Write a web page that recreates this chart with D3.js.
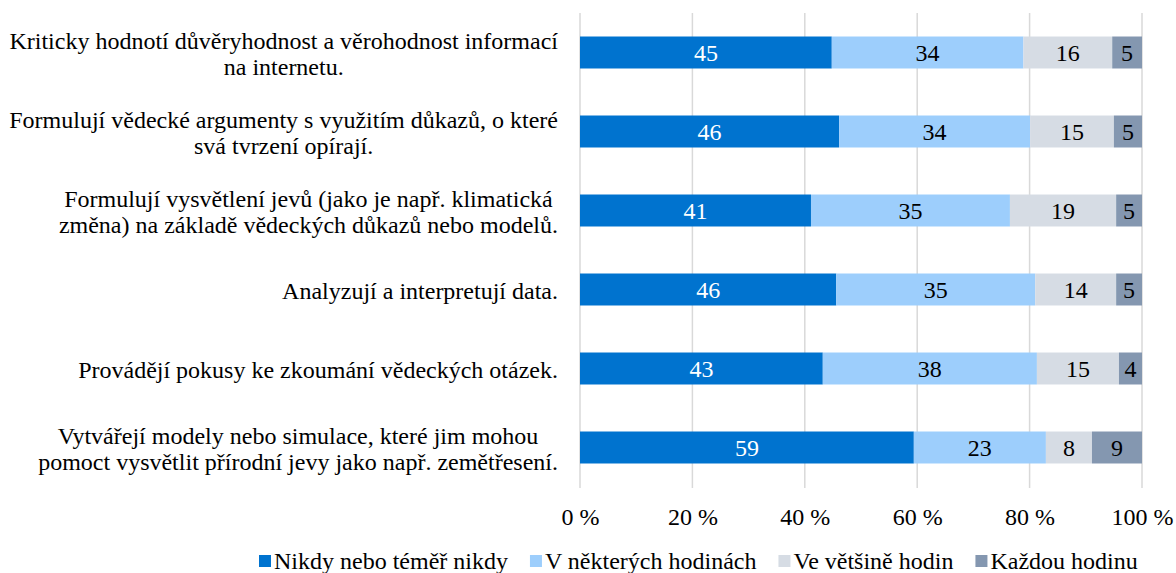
<!DOCTYPE html>
<html>
<head>
<meta charset="utf-8">
<script src="https://cdn.jsdelivr.net/npm/d3@7"></script>
<style>
  body { margin: 0; background: #fff; }
  text { font-family: "Liberation Serif", "Times New Roman", serif; }
</style>
</head>
<body>
<div id="chart"></div>
<script>
// Categories (each item is one label, lines split by "\n")
var categories = [
    "Kriticky hodnotí důvěryhodnost a věrohodnost informací\nna internetu.",
    "Formulují vědecké argumenty s využitím důkazů, o které\nsvá tvrzení opírají.",
    "Formulují vysvětlení jevů (jako je např. klimatická\nzměna) na základě vědeckých důkazů nebo modelů.",
    "Analyzují a interpretují data.",
    "Provádějí pokusy ke zkoumání vědeckých otázek.",
    "Vytvářejí modely nebo simulace, které jim mohou\npomoct vysvětlit přírodní jevy jako např. zemětřesení."
];

var seriesNames = ["Nikdy nebo téměř nikdy", "V některých hodinách", "Ve většině hodin", "Každou hodinu"];
var seriesColors = ["#0073cf", "#9dcefc", "#d6dce4", "#8497b0"];
var labelColors = ["#ffffff", "#000000", "#000000", "#000000"];

// series values (%), per category
var nikdy   = [44.8, 46.1, 41.1, 45.6, 43.2, 59.4];
var nekdy   = [34.1, 34.0, 35.4, 35.4, 38.1, 23.5];
var vetsina = [15.8, 14.9, 18.9, 14.4, 14.6, 8.2];
var kazdou  = [5.3, 5.0, 4.6, 4.6, 4.1, 8.9];
// printed labels
var lblNikdy   = [45, 46, 41, 46, 43, 59];
var lblNekdy   = [34, 34, 35, 35, 38, 23];
var lblVetsina = [16, 15, 19, 14, 15, 8];
var lblKazdou  = [5, 5, 5, 5, 4, 9];

var ticks = [0, 20, 40, 60, 80, 100];

var W = 1176, H = 573;
var plotLeft = 580, plotRight = 1142, plotTop = 13, plotBottom = 487;
var FONT = "Liberation Serif, Times New Roman, serif";
var FS = 24;

var rows = categories.map(function(c, i) {
    return {cat: c, s0: nikdy[i], s1: nekdy[i], s2: vetsina[i], s3: kazdou[i],
            l: [lblNikdy[i], lblNekdy[i], lblVetsina[i], lblKazdou[i]]};
});

var svg = d3.select("#chart").append("svg")
    .attr("width", W)
    .attr("height", H)
    .attr("font-family", FONT);

var x = d3.scaleLinear().domain([0, 100]).range([plotLeft, plotRight]);
var y = d3.scaleBand().domain(d3.range(categories.length))
    .range([plotTop, plotBottom]).paddingInner(0.595).paddingOuter(0.2975);

// gridlines
svg.append("g").selectAll("line")
    .data(ticks)
    .join("line")
    .attr("x1", d => x(d)).attr("x2", d => x(d))
    .attr("y1", plotTop).attr("y2", plotBottom + 1)
    .attr("stroke", "#d9d9d9")
    .attr("stroke-width", 1.5);

// x axis labels
var xAxis = svg.append("g")
    .attr("transform", `translate(0, ${plotBottom})`)
    .call(d3.axisBottom(x).tickValues(ticks).tickSize(0).tickPadding(21).tickFormat(d => d + " %"))
    .attr("font-family", FONT)
    .attr("font-size", FS);
xAxis.select(".domain").remove();
xAxis.selectAll("text").attr("fill", "#000");

// stack
var keys = ["s0", "s1", "s2", "s3"];
var stacked = d3.stack().keys(keys).offset(d3.stackOffsetExpand)(rows);

var layers = svg.append("g").selectAll("g")
    .data(stacked)
    .join("g")
    .attr("fill", (d, i) => seriesColors[i]);

layers.selectAll("rect")
    .data(d => d)
    .join("rect")
    .attr("x", d => x(d[0] * 100))
    .attr("width", d => x(d[1] * 100) - x(d[0] * 100))
    .attr("y", (d, i) => y(i))
    .attr("height", y.bandwidth());

layers.each(function(layer, k) {
    d3.select(this).selectAll("text")
        .data(layer)
        .join("text")
        .attr("x", d => (x(d[0] * 100) + x(d[1] * 100)) / 2)
        .attr("y", (d, i) => y(i) + y.bandwidth() / 2)
        .attr("dy", "0.35em")
        .attr("text-anchor", "middle")
        .attr("font-size", FS)
        .attr("fill", labelColors[k])
        .text(d => d.data.l[k]);
});

// category labels: centered lines, block right-aligned
var catG = svg.append("g");
rows.forEach(function(r, i) {
    var lines = r.cat.split("\n");
    var g = catG.append("g");
    var lh = 26;
    var cy = y(i) + y.bandwidth() / 2 + 1;
    var texts = g.selectAll("text")
        .data(lines)
        .join("text")
        .attr("font-size", FS)
        .attr("fill", "#000")
        .attr("text-anchor", "middle")
        .attr("y", (d, j) => cy + (j - (lines.length - 1) / 2) * lh)
        .attr("dy", "0.35em")
        .text(d => d);
    var maxW = d3.max(texts.nodes(), n => n.getComputedTextLength());
    texts.attr("x", 558 - maxW / 2);
});

// legend
var legend = svg.append("g").attr("transform", "translate(0, 561)");
var lx = 259;
seriesNames.forEach(function(name, i) {
    legend.append("rect")
        .attr("x", lx).attr("y", -6)
        .attr("width", 12).attr("height", 12)
        .attr("fill", seriesColors[i]);
    var t = legend.append("text")
        .attr("x", lx + 15)
        .attr("dy", "0.35em")
        .attr("font-size", FS)
        .attr("fill", "#000")
        .text(name);
    lx += 15 + t.node().getComputedTextLength() + 22;
});
</script>
</body>
</html>
